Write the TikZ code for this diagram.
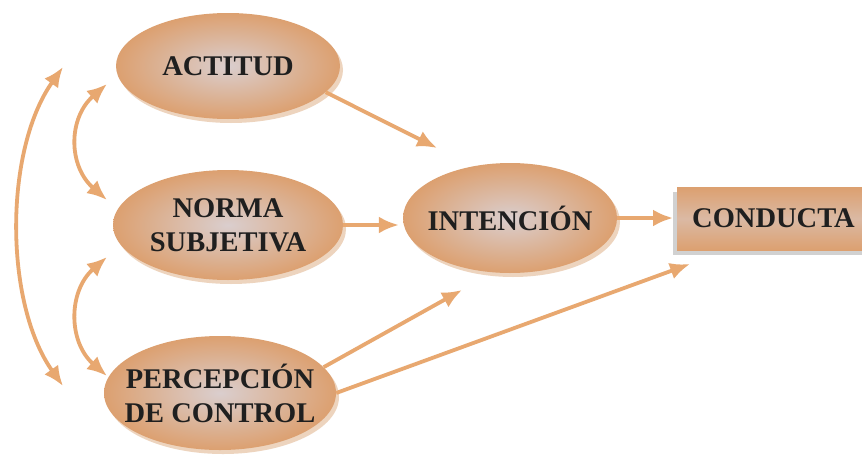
\documentclass[tikz,border=0pt]{standalone}
\usepackage{fontspec}
\setmainfont{Liberation Serif}[BoldFont={Liberation Serif Bold}]
\usetikzlibrary{shapes.geometric,arrows.meta,shadows}
\definecolor{tan}{RGB}{220,160,112}
\definecolor{tanin}{RGB}{218,206,206}
\definecolor{arrc}{RGB}{232,168,112}
\definecolor{shadowc}{RGB}{236,208,184}
\tikzset{
  lbl/.style={font=\fontsize{28.5}{34}\selectfont\bfseries, text=black!88},
  oval/.style={ellipse, inner xsep=-30pt, inner ysep=-10pt, shading=radial, inner color=tanin, outer color=tan,
    lbl, align=center,
    drop shadow={shadow xshift=3pt, shadow yshift=-4pt, fill=shadowc, opacity=0.9}},
  arr/.style={draw=arrc, line width=3.8pt, -{Latex[length=20pt,width=17pt]}},
  darr/.style={draw=arrc, line width=3.8pt, {Latex[length=20pt,width=17pt]}-{Latex[length=20pt,width=17pt]}},
}
\begin{document}
\begin{tikzpicture}[x=1pt,y=-1pt]
\useasboundingbox (0,0) rectangle (862,458);
\fill[white] (0,0) rectangle (862,458);
% nodes
\node[oval, minimum width=224pt, minimum height=106pt] (act) at (228,66) {ACTITUD};
\node[oval, minimum width=230pt, minimum height=110pt] (norm) at (228,225) {NORMA\\SUBJETIVA};
\node[oval, minimum width=232pt, minimum height=114pt] (perc) at (220,393) {PERCEPCIÓN\\DE CONTROL};
\node[oval, minimum width=214pt, minimum height=110pt] (int) at (510,218) {INTENCIÓN};
\fill[black!18] (673,192) rectangle (880,255);
\node[rectangle, anchor=north west, minimum width=200pt, minimum height=63pt, inner sep=0pt,
  shading=axis, top color=tan, bottom color=tan, middle color=tanin!55!tan] (cond) at (677,187) {};
\node[anchor=west, inner sep=0pt, lbl] (condt) at (692,218) {CONDUCTA};
% end points
\coordinate (t1) at (437,148);
\coordinate (t2) at (462,290);
\coordinate (t3) at (690,264);
\coordinate (c1a) at (107,84);
\coordinate (c1b) at (107,200);
\coordinate (c2a) at (107,257);
\coordinate (c2b) at (107,376);
\coordinate (c3a) at (63,67);
\coordinate (c3b) at (63,386);
% straight arrows
\draw[arr] (act.345) -- (t1);
\draw[arr, shorten >=4pt] (norm.east) -- (norm.east -| int.west);
\draw[arr, shorten >=4pt] (int.east) -- (int.east -| cond.west);
\draw[arr] (perc.14) -- (t2);
\draw[arr] (perc.east) -- (t3);
% curved double arrows
\draw[darr] (c1a) .. controls (68,118) and (68,166) .. (c1b);
\draw[darr] (c2a) .. controls (68,291) and (68,342) .. (c2b);
\draw[darr] (c3a) .. controls (4,150) and (4,303) .. (c3b);
\end{tikzpicture}
\end{document}
